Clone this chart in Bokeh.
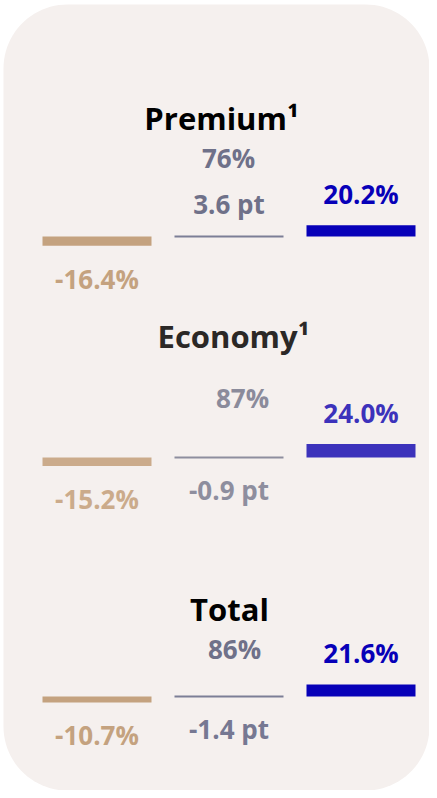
import numpy as np
from bokeh.plotting import figure
from bokeh.models import Range1d
from bokeh.core.properties import value
from bokeh.embed import file_html
from bokeh.resources import INLINE

# ---- data ----
groups = ["Premium\u00b9", "Economy\u00b9", "Total"]
change_left = [-16.4, -15.2, -10.7]      # tan bars (%)
share = ["76%", "87%", "86%"]            # share labels
share_change_pt = [3.6, -0.9, -1.4]      # grey line labels (pt)
change_right = [20.2, 24.0, 21.6]        # blue bars (%)

# ---- layout / styles ----
W, H = 429, 790
col_x = [96.5, 228.5, 360.5]
bar_w = 109
k = 0.56
baselines = [236, 457, 696]
title_pos = [(221, 128), (233, 346), (229, 619)]
share_pos = [(228, 167), (242, 407), (234, 658)]

tan_colors = ["#c4a27f", "#cbab8b", "#c4a27f"]
grey_colors = ["#7c7e96", "#8e8e9e", "#7c7e96"]
pt_colors = ["#6f7189", "#8e8e9e", "#767892"]
blue_colors = ["#0700b8", "#3c32bb", "#0700b8"]
share_colors = ["#6f7189", "#8b8b9b", "#6f7189"]
title_colors = ["#000000", "#2b2826", "#000000"]
bg = "#f5f0ee"

TITLE_SIZE = 31
NUM_SIZE = 26
T_OFF = 11   # baseline correction for title text
N_OFF = 10   # baseline correction for number text

p = figure(width=W, height=H, x_range=Range1d(0, W), y_range=Range1d(H, 0),
           output_backend="svg", toolbar_location=None,
           x_axis_type=None, y_axis_type=None,
           min_border=0, min_border_left=0, min_border_right=0,
           min_border_top=0, min_border_bottom=0)
p.grid.visible = False
p.outline_line_color = None
p.background_fill_color = "white"
p.border_fill_color = "white"

# rounded background panel
def rounded(x0, x1, y0, y1, r, n=24):
    xs, ys = [], []
    for cx, cy, a0 in [(x1 - r, y0 + r, -90), (x1 - r, y1 - r, 0),
                       (x0 + r, y1 - r, 90), (x0 + r, y0 + r, 180)]:
        t = np.radians(np.linspace(a0, a0 + 90, n))
        xs += list(cx + r * np.cos(t))
        ys += list(cy + r * np.sin(t))
    return xs, ys

rx, ry = rounded(3, W, 4, H, 64)
p.patch(rx, ry, fill_color=bg, line_color=None)

num_font = value("Open Sans")

def num_text(x, y, s, color):
    p.text(x=[x], y=[y - N_OFF], text=[s],
           text_font=num_font, text_font_style="bold", text_font_size=f"{NUM_SIZE}px",
           text_color=color, text_align="center", text_baseline="alphabetic")

for i, g in enumerate(groups):
    base = baselines[i]
    # tan bar (negative, below baseline)
    tan_bottom = base - change_left[i] * k
    p.quad(left=col_x[0] - bar_w / 2, right=col_x[0] + bar_w / 2,
           top=base, bottom=tan_bottom, fill_color=tan_colors[i], line_color=None)
    # grey line
    p.quad(left=col_x[1] - bar_w / 2, right=col_x[1] + bar_w / 2,
           top=base - 1, bottom=base + 1, fill_color=grey_colors[i], line_color=None)
    # blue bar (positive, above baseline)
    blue_top = base - change_right[i] * k
    p.quad(left=col_x[2] - bar_w / 2, right=col_x[2] + bar_w / 2,
           top=blue_top, bottom=base, fill_color=blue_colors[i], line_color=None)

    # title
    p.text(x=[title_pos[i][0]], y=[title_pos[i][1] - T_OFF], text=[g],
           text_font=value("Open Sans"), text_font_style="bold",
           text_font_size=f"{TITLE_SIZE}px", text_color=title_colors[i],
           text_align="center", text_baseline="alphabetic")
    # share
    num_text(share_pos[i][0], share_pos[i][1], share[i], share_colors[i])
    # tan label
    num_text(col_x[0], tan_bottom + 43, f"{change_left[i]:.1f}%", tan_colors[i])
    # pt label
    v = share_change_pt[i]
    pty = base - 23 if v >= 0 else base + 42
    num_text(col_x[1], pty, f"{v:.1f} pt", pt_colors[i])
    # blue label
    num_text(col_x[2], blue_top - 21, f"{change_right[i]:.1f}%", blue_colors[i])

open("out.html", "w").write(file_html(p, INLINE))
